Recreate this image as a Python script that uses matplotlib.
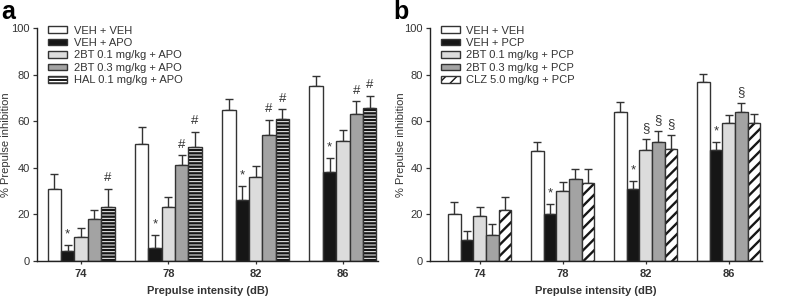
import numpy as np
import matplotlib
matplotlib.use("Agg")
import matplotlib.pyplot as plt
from matplotlib.patches import Patch

# prepulse intensities (dB)
intensities = ["74", "78", "82", "86"]

# panel a: apomorphine model
labels_a = ["VEH + VEH", "VEH + APO", "2BT 0.1 mg/kg + APO",
            "2BT 0.3 mg/kg + APO", "HAL 0.1 mg/kg + APO"]
veh_veh_a = [31.0, 50.3, 65.0, 75.0]
veh_apo_a = [4.4, 5.4, 26.4, 38.4]
bt01_apo_a = [10.4, 23.0, 36.0, 51.6]
bt03_apo_a = [17.9, 41.4, 54.3, 63.0]
hal_apo_a = [23.3, 48.9, 60.9, 65.7]
sem_veh_veh_a = [6.3, 7.3, 4.7, 4.3]
sem_veh_apo_a = [2.5, 5.6, 5.7, 6.0]
sem_bt01_apo_a = [3.6, 4.3, 4.9, 4.8]
sem_bt03_apo_a = [4.2, 4.0, 6.4, 5.6]
sem_hal_apo_a = [7.8, 6.5, 4.2, 5.3]

# panel b: phencyclidine model
labels_b = ["VEH + VEH", "VEH + PCP", "2BT 0.1 mg/kg + PCP",
            "2BT 0.3 mg/kg + PCP", "CLZ 5.0 mg/kg + PCP"]
veh_veh_b = [20.4, 47.1, 64.0, 76.9]
veh_pcp_b = [9.0, 20.1, 31.1, 47.6]
bt01_pcp_b = [19.3, 30.1, 47.6, 59.3]
bt03_pcp_b = [11.4, 35.4, 50.9, 64.0]
clz_pcp_b = [21.9, 33.7, 47.9, 59.3]
sem_veh_veh_b = [5.0, 4.0, 4.3, 3.2]
sem_veh_pcp_b = [4.0, 4.3, 3.3, 3.5]
sem_bt01_pcp_b = [3.7, 3.9, 5.0, 3.3]
sem_bt03_pcp_b = [4.7, 4.3, 5.0, 3.9]
sem_clz_pcp_b = [5.4, 6.0, 6.4, 4.0]

# significance marks: (series index, group index, symbol)
marks_a = [(1, 0, "*"), (1, 1, "*"), (1, 2, "*"), (1, 3, "*"),
           (4, 0, "#"), (3, 1, "#"), (4, 1, "#"), (3, 2, "#"),
           (4, 2, "#"), (3, 3, "#"), (4, 3, "#")]
marks_b = [(1, 1, "*"), (1, 2, "*"), (1, 3, "*"),
           (2, 2, "§"), (3, 2, "§"), (4, 2, "§"), (3, 3, "§")]

EDGE = "#333333"
plt.rcParams["font.family"] = ["Liberation Sans", "DejaVu Sans"]

styles_a = [
    dict(face="white"), dict(face="#161616"), dict(face="#dcdcdc"),
    dict(face="#a3a3a3"),
    dict(face="#161616", hatch="-----", hcol="white", hlw=0.7),
]
styles_b = [
    dict(face="white"), dict(face="#161616"), dict(face="#dcdcdc"),
    dict(face="#a3a3a3"),
    dict(face="white", hatch="///", hcol="#161616", hlw=1.7),
]

BW = 0.153


def draw_panel(ax, series, sems, labels, styles, marks, xlim, ylab_x):
    x = np.arange(len(intensities))
    offsets = (np.arange(5) - 2) * BW
    for i, (vals, err, st) in enumerate(zip(series, sems, styles)):
        pos = x + offsets[i]
        if "hatch" in st:
            with plt.rc_context({"hatch.linewidth": st["hlw"]}):
                ax.bar(pos, vals, BW, color=st["face"], edgecolor=st["hcol"],
                       hatch=st["hatch"], linewidth=0, zorder=2)
            ax.bar(pos, vals, BW, facecolor="none", edgecolor=EDGE,
                   linewidth=1.0, zorder=3)
        else:
            ax.bar(pos, vals, BW, color=st["face"], edgecolor=EDGE,
                   linewidth=1.0, zorder=2)
        ax.errorbar(pos, vals, yerr=[np.zeros(len(vals)), err], fmt="none",
                    ecolor=EDGE, elinewidth=1.0, capsize=2.6, capthick=1.0,
                    zorder=1)
    for si, gi, sym in marks:
        top = series[si][gi] + sems[si][gi]
        ax.text(x[gi] + offsets[si], top + 2.0, sym, ha="center", va="bottom",
                fontsize=9.5, color="#333333")

    ax.set_xlim(*xlim)
    ax.set_ylim(0, 100)
    ax.set_yticks([0, 20, 40, 60, 80, 100])
    ax.set_xticks(x)
    ax.set_xticklabels(intensities, fontweight="bold")
    ax.tick_params(axis="both", labelsize=8, colors="#333333", length=3,
                   width=0.9, pad=2)
    ax.tick_params(axis="x", length=2.5, pad=3)
    ax.set_ylabel("% Prepulse inhibition", fontsize=8, color="#333333")
    ax.yaxis.set_label_coords(ylab_x, 0.5)
    ax.set_xlabel("Prepulse intensity (dB)", fontsize=8, fontweight="bold",
                  color="#333333", labelpad=5)
    for s in ["top", "right"]:
        ax.spines[s].set_visible(False)
    for s in ["left", "bottom"]:
        ax.spines[s].set_color("#222222")
        ax.spines[s].set_linewidth(1.0)

    handles = []
    for st in styles:
        if "hatch" in st:
            with plt.rc_context({"hatch.linewidth": st["hlw"]}):
                fill = Patch(facecolor=st["face"], edgecolor=st["hcol"],
                             hatch=st["hatch"], linewidth=0)
            outline = Patch(facecolor="none", edgecolor=EDGE, linewidth=1.0)
            handles.append((fill, outline))
        else:
            handles.append(Patch(facecolor=st["face"], edgecolor=EDGE,
                                 linewidth=1.0))
    leg = ax.legend(handles, labels, loc="upper left", frameon=False,
                    fontsize=8, handlelength=1.7, handleheight=0.55,
                    handletextpad=0.6, labelspacing=0.22,
                    bbox_to_anchor=(0.02, 1.03), borderaxespad=0)
    for t in leg.get_texts():
        t.set_color("#333333")


fig = plt.figure(figsize=(7.87, 2.96), dpi=100)
ax_a = fig.add_axes([0.047, 0.118, 0.433, 0.787])
ax_b = fig.add_axes([0.546, 0.118, 0.422, 0.787])

draw_panel(ax_a,
           [veh_veh_a, veh_apo_a, bt01_apo_a, bt03_apo_a, hal_apo_a],
           [sem_veh_veh_a, sem_veh_apo_a, sem_bt01_apo_a,
            sem_bt03_apo_a, sem_hal_apo_a],
           labels_a, styles_a, marks_a, (-0.506, 3.40), -0.075)
draw_panel(ax_b,
           [veh_veh_b, veh_pcp_b, bt01_pcp_b, bt03_pcp_b, clz_pcp_b],
           [sem_veh_veh_b, sem_veh_pcp_b, sem_bt01_pcp_b,
            sem_bt03_pcp_b, sem_clz_pcp_b],
           labels_b, styles_b, marks_b, (-0.603, 3.40), -0.072)

fig.text(0.002, 0.936, "a", fontsize=18, fontweight="bold", va="baseline")
fig.text(0.500, 0.936, "b", fontsize=18, fontweight="bold", va="baseline")

fig.savefig("out.png", dpi=100)
